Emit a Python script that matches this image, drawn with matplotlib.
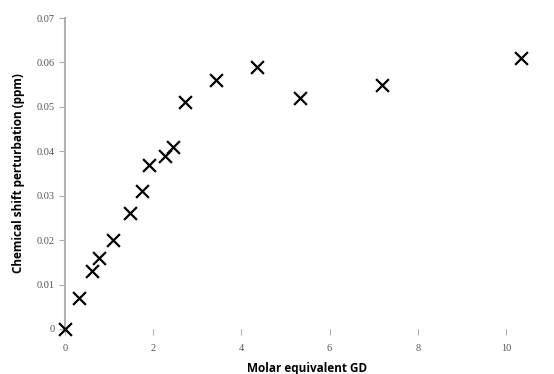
import matplotlib
matplotlib.use("Agg")
import matplotlib.pyplot as plt

x_vals = [0, 0.32, 0.61, 0.77, 1.09, 1.48, 1.75, 1.91, 2.27, 2.45, 2.73, 3.43, 4.36, 5.32, 7.2, 10.34]
y_vals = [0.0, 0.007, 0.013, 0.016, 0.020, 0.026, 0.031, 0.037, 0.039, 0.041, 0.051, 0.056, 0.059, 0.052, 0.055, 0.061]
x_ticks = [0, 2, 4, 6, 8, 10]
y_ticks = [0, 0.01, 0.02, 0.03, 0.04, 0.05, 0.06, 0.07]
y_ticklabels = ["0", "0.01", "0.02", "0.03", "0.04", "0.05", "0.06", "0.07"]

fig = plt.figure(figsize=(5.54, 3.74), dpi=100)
ax = fig.add_axes([65/554, 1-329/374, (550-65)/554, (329-18)/374])
ax.scatter(x_vals, y_vals, marker='x', s=85, color='black', linewidths=1.6, clip_on=False, zorder=3)
ax.set_xlim(0, 11)
ax.set_ylim(0, 0.07)
ax.set_xticks(x_ticks)
ax.set_xticklabels([str(t) for t in x_ticks])
ax.set_yticks(y_ticks)
ax.set_yticklabels(y_ticklabels)
for s in ['top', 'right', 'bottom']:
    ax.spines[s].set_visible(False)
ax.spines['left'].set_color('#b0b0b0')
ax.spines['left'].set_linewidth(1.5)
ax.tick_params(axis='both', colors='#b0b0b0', labelcolor='#555555', labelsize=7.5, length=4, width=0.8)
ax.tick_params(axis='x', pad=7)
for lab in ax.get_xticklabels() + ax.get_yticklabels():
    lab.set_family('Liberation Serif')
ax.set_xlabel("Molar equivalent GD", fontsize=8.5, fontweight='bold', family='Open Sans', labelpad=6)
ax.set_ylabel("Chemical shift perturbation (ppm)", fontsize=8.5, fontweight='bold', family='Open Sans', labelpad=8)
fig.savefig("out.png", dpi=100)
